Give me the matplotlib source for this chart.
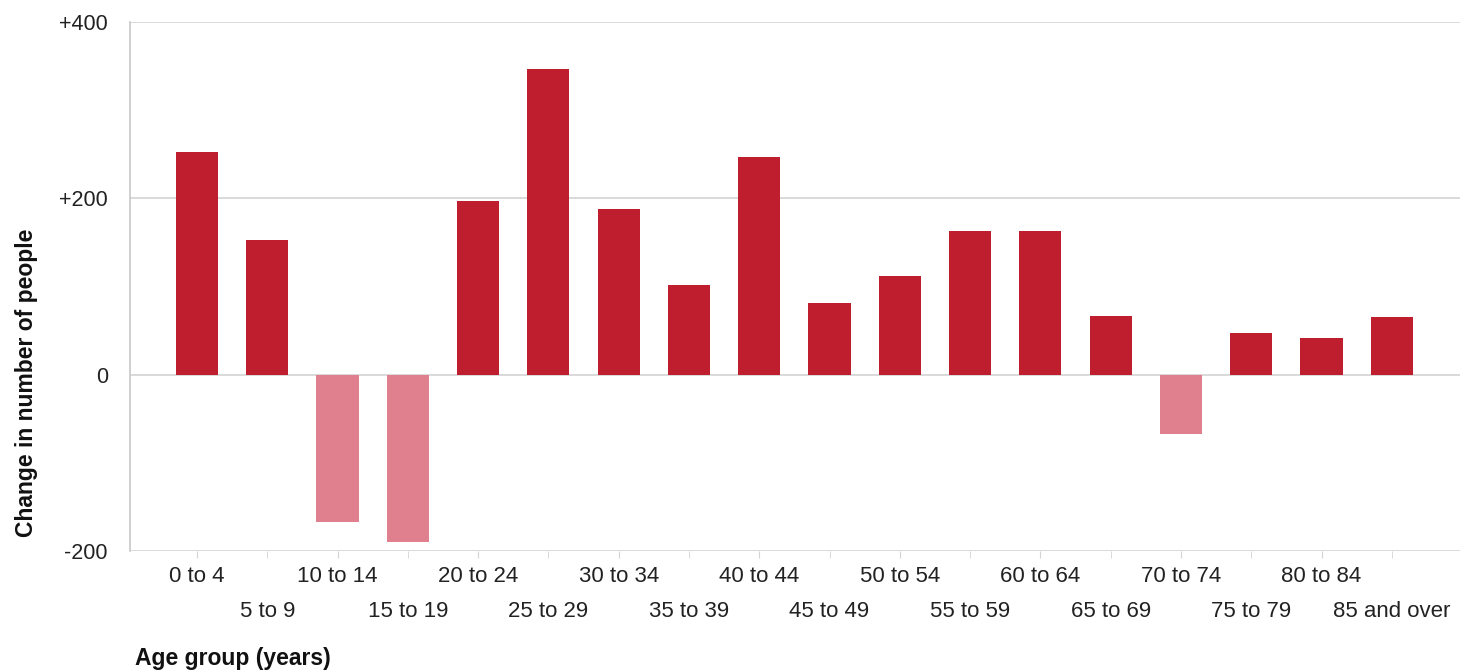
import matplotlib
matplotlib.use("Agg")
import matplotlib.pyplot as plt
import numpy as np

categories = ["0 to 4", "5 to 9", "10 to 14", "15 to 19", "20 to 24", "25 to 29",
              "30 to 34", "35 to 39", "40 to 44", "45 to 49", "50 to 54", "55 to 59",
              "60 to 64", "65 to 69", "70 to 74", "75 to 79", "80 to 84", "85 and over"]
values = [252, 153, -167, -190, 197, 347, 188, 102, 247, 81, 112, 163, 163, 67, -67, 47, 42, 65]
ytick_values = [-200, 0, 200, 400]
ytick_labels = ["-200", "0", "+200", "+400"]

plt.rcParams['font.family'] = ['Liberation Sans', 'DejaVu Sans']

POS = '#BE1E2D'
NEG = '#E0808F'
GRID = '#D3D3D3'

fig = plt.figure(figsize=(14.6, 6.7), dpi=100)
ax = fig.add_axes([130/1460, 1 - 551/670, 1 - 130/1460, (551 - 22)/670])

x = np.arange(len(categories))
colors = [POS if v >= 0 else NEG for v in values]
ax.bar(x, values, width=0.6, color=colors, zorder=3)

ax.set_xlim(-0.953, 17.97)
ax.set_ylim(-200, 400)
ax.set_yticks(ytick_values)
ax.set_yticklabels(ytick_labels, fontsize=15.5, color='#222222')
ax.yaxis.grid(True, color=GRID, linewidth=1.2, zorder=0)
ax.tick_params(axis='y', length=0, pad=16)

even = x[::2]
odd = x[1::2]
ax.set_xticks(even)
ax.set_xticklabels([categories[i] for i in even], fontsize=16, color='#222222')
ax.set_xticks(odd, minor=True)
ax.set_xticklabels([categories[i] for i in odd], minor=True, fontsize=16, color='#222222')
ax.tick_params(axis='x', which='major', length=5, color=GRID, pad=6)
ax.tick_params(axis='x', which='minor', length=5, color=GRID, pad=31)

for s in ['top', 'right', 'bottom']:
    ax.spines[s].set_visible(False)
ax.spines['left'].set_color('#C8C8C8')
ax.spines['left'].set_linewidth(1.2)

fig.text(27/1460, 1 - 383/670, "Change in number of people", rotation=90,
         ha='center', va='center', fontsize=16.5, fontweight='bold', color='#111111')
fig.text(135/1460, 1 - 658/670, "Age group (years)", ha='left', va='center',
         fontsize=16.5, fontweight='bold', color='#111111')

fig.savefig("out.png", dpi=100)
